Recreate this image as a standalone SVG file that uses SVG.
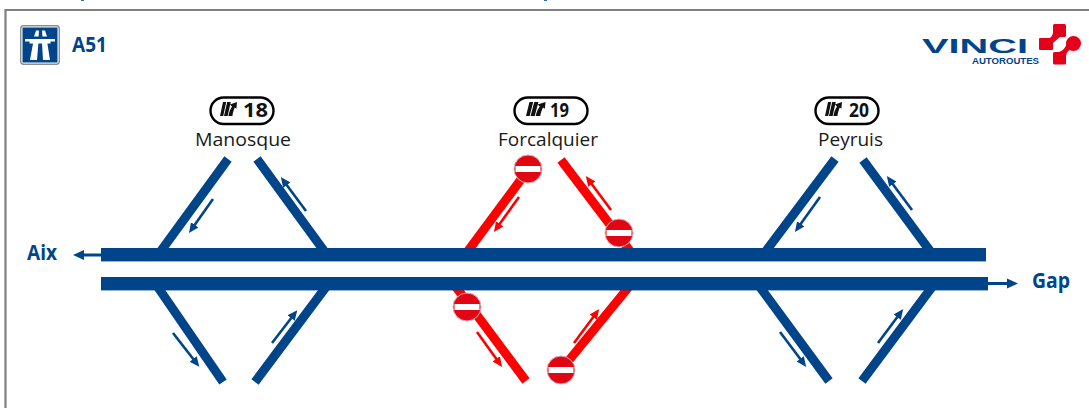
<svg xmlns="http://www.w3.org/2000/svg" width="1089" height="408" viewBox="0 0 1089 408">
<style>
.road{fill:#004489}
.ramp{fill:none;stroke-width:9}
.blue{stroke:#004489}
.red{stroke:#ff0000}
.dirb{fill:none;stroke:#004489;stroke-width:2.6;marker-end:url(#hb)}
.dirr{fill:none;stroke:#ff0000;stroke-width:2.6;marker-end:url(#hr)}
.main{fill:none;stroke:#004489;stroke-width:3}
.lbl{font-family:"Open Sans","Noto Sans",sans-serif;font-size:19px;fill:#1a1a1a}
.num{font-family:"Open Sans","Noto Sans",sans-serif;font-weight:700;font-size:19px;fill:#111}
.bdg{fill:#fff;stroke:#000;stroke-width:2.4}
.place{font-family:"Open Sans","Noto Sans",sans-serif;font-weight:700;font-size:22px;fill:#004489}
</style>
<defs>
<marker id="hb" markerUnits="userSpaceOnUse" markerWidth="10" markerHeight="9" refX="3" refY="4.5" orient="auto"><path d="M0 0L10 4.5L0 9z" fill="#004489"/></marker>
<marker id="hr" markerUnits="userSpaceOnUse" markerWidth="10" markerHeight="9" refX="3" refY="4.5" orient="auto"><path d="M0 0L10 4.5L0 9z" fill="#ff0000"/></marker>
<g id="exit"><path d="M3 0H6.2L3.2 14H0Z M7.2 0H10.8L7.6 14H4Z M8.4 14C9.2 10 10.4 7 12 4.6L10 2.6L17 0L16.4 6.8L14.8 5.4C13.6 8 12.8 11 12.4 14Z" fill="#111"/></g>
<g id="stop"><circle r="14" fill="#e10614" stroke="#d9b4b8" stroke-width="1"/><rect x="-12.5" y="-3" width="25" height="6" fill="#fff"/></g>
</defs>
<rect width="1089" height="408" fill="#fff"/>
<path d="M5.5 408V10H1089" fill="none" stroke="#808080" stroke-width="2.2"/>
<rect x="81" y="0" width="3" height="1" fill="#2f6fb5"/>
<rect x="544" y="0" width="3" height="1" fill="#2f6fb5"/>

<g id="a51-sign">
<rect x="20.7" y="25.7" width="38.6" height="38.6" rx="3" fill="#fff" stroke="#8a8f96" stroke-width="1.4"/>
<rect x="22.5" y="27.5" width="35" height="35" fill="#004489"/>
<path fill="#fff" d="M36 30.5H39L38.6 36.5H34Z M42 30.5H45L47 36.5H42.4Z M25 39H55V41.5H50.5V43.5H29.5V41.5H25Z M33 43.5H38.4L37 60H30Z M42 43.5H47.4L50 60H43Z"/>
<text class="place" x="72" y="52" textLength="35" lengthAdjust="spacingAndGlyphs">A51</text>
</g>

<g id="vinci-logo">
<text x="922" y="53" font-family="'Liberation Sans',sans-serif" font-weight="700" font-size="21" fill="#004489" textLength="106" lengthAdjust="spacingAndGlyphs">VINCI</text>
<text x="972" y="64" font-family="'Liberation Sans',sans-serif" font-weight="700" font-size="9.5" fill="#004489" textLength="67" lengthAdjust="spacingAndGlyphs">AUTOROUTES</text>
<g fill="#e2001a">
<rect x="1053" y="24" width="13" height="13" rx="1.5"/>
<rect x="1039" y="38" width="14" height="12" rx="1"/>
<path d="M1053 33V45L1047 38H1050Q1052 37 1053 33ZM1053 36H1061L1053 43Z"/>
<circle cx="1073.5" cy="43.5" r="7.5"/>
<rect x="1053" y="52" width="13" height="12.5" rx="1.5"/>
<path d="M1067 43L1070 50Q1067 51 1066 56H1059V52Q1065 50 1067 43Z"/>
</g>
</g>

<g id="connectors">
<g class="ramps">
<path class="ramp blue" d="M228 159L158 255M257 159L327 255M155 283L223 382M329 283L255 382"/>
<path class="ramp red" d="M528 170L465 255M561 160L633 255M453 283L526 381M632 283L561 370"/>
<path class="ramp blue" d="M835 159L763 255M863 160L933 255M757 283L829 381M935 283L862 381"/>
</g>
<rect class="road" x="101" y="248" width="885" height="13.4"/>
<rect class="road" x="101" y="277" width="887" height="13.4"/>
<path class="main" d="M101 255H84"/>
<path d="M73 255L84 250V260Z" fill="#004489"/>
<path class="main" d="M988 283.5H1007"/>
<path d="M1018 283.5L1007 278.5V288.5Z" fill="#004489"/>
<path class="dirb" d="M213 199L193 227.3"/>
<path class="dirb" d="M306 211L285 182.7"/>
<path class="dirb" d="M173 333L195 361.3"/>
<path class="dirb" d="M272 343L293 315.7"/>
<path class="dirr" d="M519 197L498 226.3"/>
<path class="dirr" d="M611 210L590 181.7"/>
<path class="dirr" d="M477 332L498 361.3"/>
<path class="dirr" d="M574 343L595 314.7"/>
<path class="dirb" d="M820 197L799 226.3"/>
<path class="dirb" d="M912 210L891 181.7"/>
<path class="dirb" d="M780 332L802 361.3"/>
<path class="dirb" d="M878 343L899 314.7"/>
</g>

<g id="no-entry-signs">
<use href="#stop" x="528" y="169"/>
<use href="#stop" x="619" y="233"/>
<use href="#stop" x="467" y="307"/>
<use href="#stop" x="561" y="370"/>
</g>

<g id="exit-18">
<rect class="bdg" x="210.5" y="97.5" width="63" height="26.5" rx="13.2"/>
<use href="#exit" x="220" y="102"/>
<text class="num" x="243" y="116.5" textLength="25" lengthAdjust="spacingAndGlyphs">18</text>
<text class="lbl" x="195" y="146" textLength="96" lengthAdjust="spacingAndGlyphs">Manosque</text>
</g>
<g id="exit-19">
<rect class="bdg" x="514.5" y="97.5" width="73" height="26.5" rx="13.2"/>
<use href="#exit" transform="translate(526,102) scale(1.15,1)"/>
<text class="num" x="550" y="116.5" textLength="19" lengthAdjust="spacingAndGlyphs">19</text>
<text class="lbl" x="498" y="146" textLength="100" lengthAdjust="spacingAndGlyphs">Forcalquier</text>
</g>
<g id="exit-20">
<rect class="bdg" x="815.5" y="97.5" width="63" height="26.5" rx="13.2"/>
<use href="#exit" x="825" y="102"/>
<text class="num" x="849" y="116.5" textLength="20" lengthAdjust="spacingAndGlyphs">20</text>
<text class="lbl" x="818" y="146" textLength="65" lengthAdjust="spacingAndGlyphs">Peyruis</text>
</g>

<g id="aix"><text class="place" x="27" y="260" textLength="30" lengthAdjust="spacingAndGlyphs">Aix</text></g>
<g id="gap"><text class="place" x="1032" y="288" textLength="38" lengthAdjust="spacingAndGlyphs">Gap</text></g>
</svg>
